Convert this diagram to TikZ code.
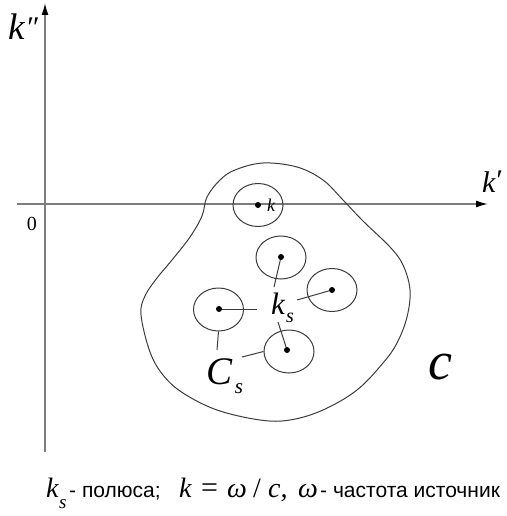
\documentclass[tikz,border=0pt]{standalone}
\usepackage{fontspec}
\setmainfont{Liberation Serif}
\newfontfamily\sansf{Liberation Sans}
\newfontfamily\serifit{Liberation Serif Italic}
\usetikzlibrary{arrows.meta,shapes.geometric}
\definecolor{axisgray}{RGB}{125,125,125}
\definecolor{linegray}{RGB}{60,60,60}
\newcommand{\fsz}[1]{\fontsize{#1}{#1}\selectfont}
\begin{document}
\begin{tikzpicture}[x=1pt,y=-1pt,
  axis/.style={draw=axisgray,line width=1.5pt,-{Latex[length=12pt,width=7pt,black]}},
  ring/.style={ellipse,draw=linegray,line width=1pt,minimum width=50pt,minimum height=43pt,inner sep=0pt},
  pole/.style={circle,fill=black,inner sep=0pt,minimum size=6pt},
  lead/.style={draw=linegray,line width=1pt},
  lbl/.style={inner sep=0pt},
  captxt/.style={inner sep=0pt,anchor=base west}
]
\useasboundingbox (0,0) rectangle (506,516);
% axes
\coordinate (xs) at (17,204);
\coordinate (xe) at (488,204);
\coordinate (ys) at (45,452);
\coordinate (ye) at (45,3);
\draw[axis] (xs) -- (xe);
\draw[axis] (ys) -- (ye);
\node[lbl,font=\serifit\fsz{37}] (kpp) at (23,27) {k\kern1pt\raisebox{2pt}{\fsz{30}\char"2033}};
\node[lbl,font=\serifit\fsz{30},anchor=west] (kp) at (482,182) {k\kern-1pt\raisebox{2pt}{\char"2032}};
\node[lbl,font=\fsz{20}] (zero) at (32,224) {0};
% blob
\draw[draw=linegray,line width=1pt] plot[smooth cycle,tension=0.6] coordinates {
 (263,163) (297,167) (323,180) (343,200) (363,221) (390,247) (403,265)
 (410,290) (407,317) (397,343) (383,363) (357,390) (323,410) (290,420)
 (260,420) (217,410) (183,393) (163,375) (150,352) (141,315) (145,296)
 (157,278) (172,260) (190,237) (202,216) (207,197) (220,180) (235,170)};
% rings and poles
\node[ring] (e1) at (258,205) {};
\node[ring] (e2) at (281,257.5) {};
\node[ring] (e3) at (332,290) {};
\node[ring] (e4) at (218.5,309.5) {};
\node[ring] (e5) at (289,351.5) {};
\node[pole] (p1) at (258,205) {};
\node[pole] (p2) at (281,257) {};
\node[pole] (p3) at (332,290) {};
\node[pole] (p4) at (219,309) {};
\node[pole] (p5) at (287,350) {};
\node[lbl,font=\serifit\fsz{18}] (k) at (271,205) {k};
% k_s label
\node[lbl,font=\serifit\fsz{31}] (ks) at (278,304) {k};
\node[lbl,font=\serifit\fsz{20}] (kss) at (290,318) {s};
\coordinate (a2) at (274,287);
\coordinate (a3) at (297,300);
\coordinate (a4) at (257,309);
\coordinate (a5) at (278,322);
\draw[lead] (p2) -- (a2);
\draw[lead] (p3) -- (a3);
\draw[lead] (p4) -- (a4);
\draw[lead] (p5) -- (a5);
% C_s label
\node[lbl,font=\serifit\fsz{39}] (Cs) at (220,372) {C};
\node[lbl,font=\serifit\fsz{21}] (Css) at (239,389) {s};
\coordinate (b4) at (217,350);
\coordinate (b5a) at (242,357);
\draw[lead] (e4.south) -- (b4);
\draw[lead] (b5a) -- (e5.west);
% c label
\node[lbl,font=\serifit\fsz{54}] (c) at (440,367) {c};
% caption
\node[captxt,font=\serifit\fsz{28}] (capk) at (46,497) {k};
\node[captxt,font=\serifit\fsz{19}] (caps) at (59,508) {s};
\node[captxt,font=\sansf\fsz{21}] (capa) at (69,497) {- полюса;};
\node[captxt,font=\serifit\fsz{28}] (capk2) at (179,497) {k};
\node[captxt,font=\fsz{30}] (capeq) at (201,497) {=};
\node[captxt,font=\serifit\fsz{28}] (capw) at (227,497) {ω};
\node[captxt,font=\fsz{28}] (capsl) at (253,497) {/};
\node[captxt,font=\serifit\fsz{28}] (capc) at (268,497) {c,};
\node[captxt,font=\serifit\fsz{28}] (capw2) at (298,497) {ω};
\node[captxt,font=\sansf\fsz{21}] (capb) at (320,497) {- частота источник};
\end{tikzpicture}
\end{document}
